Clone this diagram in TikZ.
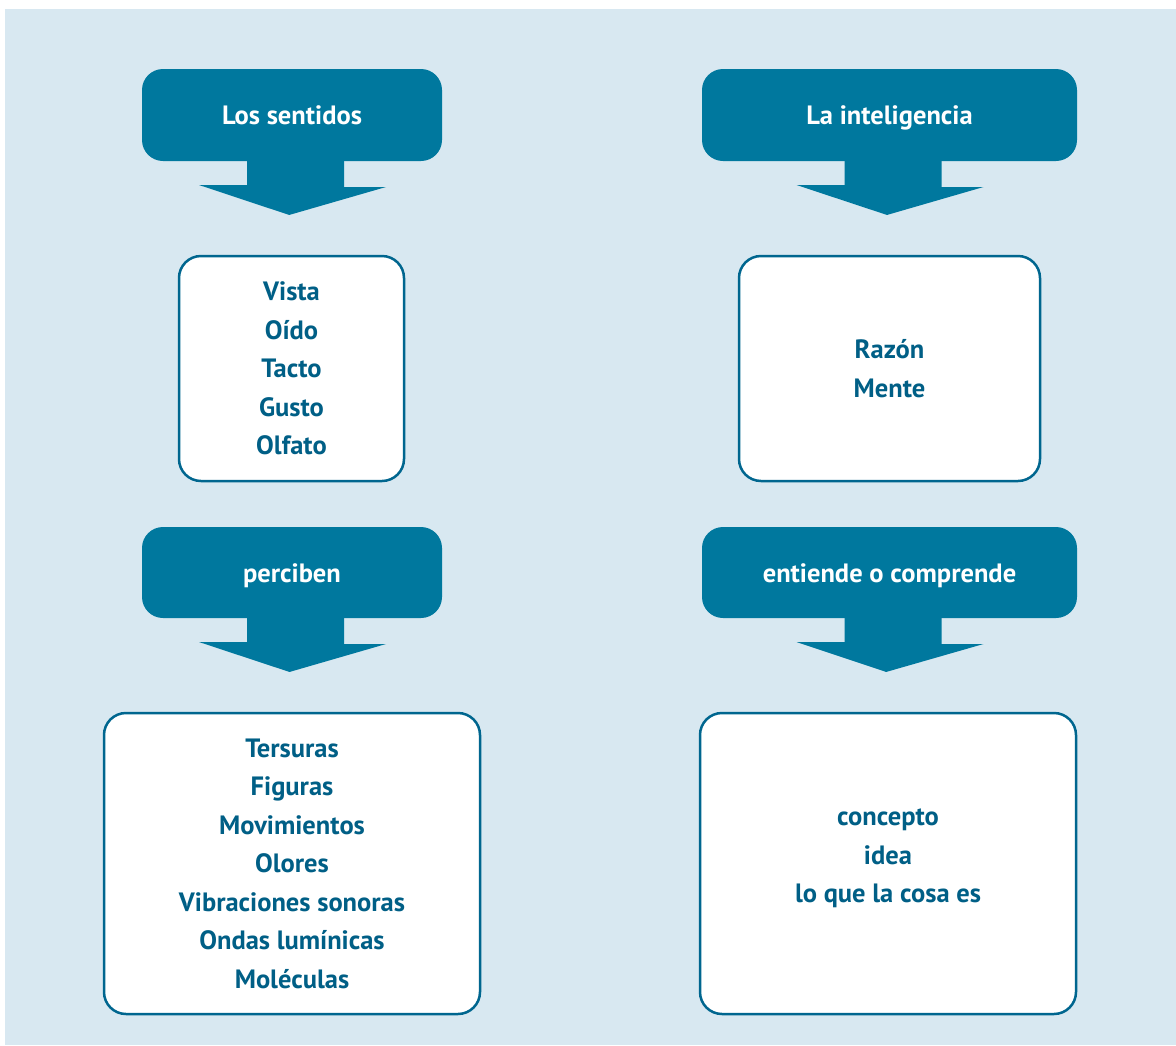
\documentclass[tikz,border=0pt]{standalone}
\usepackage{fontspec}
\setmainfont{PT Sans}
\usetikzlibrary{calc}
\definecolor{bgblue}{HTML}{D8E8F1}
\definecolor{teal}{HTML}{00789E}
\definecolor{inkblue}{HTML}{005F86}
\definecolor{edgeblue}{HTML}{00668F}
\tikzset{
  headbox/.style={rectangle, rounded corners=21pt, fill=teal, draw=none,
    text=white, font=\fontsize{26.5}{38.5}\selectfont\bfseries, align=center,
    inner sep=0pt, outer sep=0pt, text height=19pt, text depth=0pt},
  whitebox/.style={rectangle, rounded corners=22pt, fill=white, draw=edgeblue,
    line width=2.5pt, text=inkblue, font=\fontsize{26.5}{38.5}\selectfont\bfseries,
    align=center, inner sep=0pt, outer sep=0pt},
  boxtext/.style={text=inkblue, font=\fontsize{26.5}{38.5}\selectfont\bfseries,
    align=center, inner sep=0pt},
  fatarrow/.style={fill=teal, draw=none}
}
\newcommand{\fatarrowto}[2]{%
  \fill[fatarrow]
    ($(#1.south)+(-45,-0.5)$) -- ($(#1.south)+(52,-0.5)$) --
    ($(#1.south)+(52,26)$) -- ($(#1.south)+(94,26)$) --
    ($(#1.south)!0.568!(#2.north)+(-2.5,0)$) --
    ($(#1.south)+(-93,24)$) -- ($(#1.south)+(-45,24)$) -- cycle;}
\begin{document}
\begin{tikzpicture}[x=1pt,y=-1pt]
\useasboundingbox (0,0) rectangle (1176,1045);
\fill[bgblue] (5,9) rectangle (1176,1045);

\node[headbox, minimum width=300pt, minimum height=92pt] (h1) at (292,115) {Los sentidos};
\node[headbox, minimum width=375pt, minimum height=92pt] (h2) at (889.5,115) {La inteligencia};

\node[whitebox, minimum width=225pt, minimum height=225pt] (b1) at (291.5,368.5)
  {Vista\\Oído\\Tacto\\Gusto\\Olfato};
\node[whitebox, minimum width=301pt, minimum height=225pt] (b2) at (889.5,368.5)
  {Razón\\Mente};

\node[headbox, minimum width=300pt, minimum height=91pt] (h3) at (292,572.5) {perciben};
\node[headbox, minimum width=375pt, minimum height=91pt] (h4) at (889.5,572.5) {entiende o comprende};

\node[whitebox, minimum width=376pt, minimum height=301pt] (b3) at (292,863.5)
  {Tersuras\\Figuras\\Movimientos\\Olores\\Vibraciones sonoras\\Ondas lumínicas\\Moléculas};
\node[whitebox, minimum width=376pt, minimum height=301pt] (b4) at (888,863.5) {};
\node[boxtext] (t4) at ($(b4.center)+(0,-5)$) {concepto\\idea\\lo que la cosa es};

\fatarrowto{h1}{b1}
\fatarrowto{h2}{b2}
\fatarrowto{h3}{b3}
\fatarrowto{h4}{b4}
\end{tikzpicture}
\end{document}
